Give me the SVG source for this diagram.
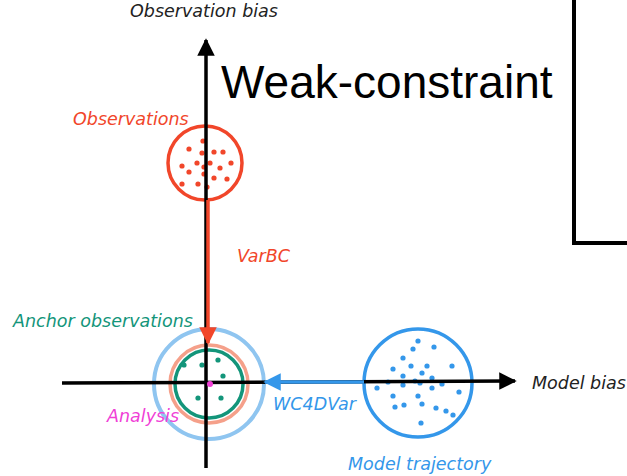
<svg xmlns="http://www.w3.org/2000/svg" width="627" height="476" viewBox="0 0 627 476">
<defs>
<style>
.lbl{font-family:"DejaVu Sans","Liberation Sans",sans-serif;font-style:italic;font-size:17.5px;font-weight:300}
.red{fill:#f1462a}.grn{fill:#13957a}.blu{fill:#3497ea}.pnk{fill:#f03fd6}
</style>
<marker id="ab" viewBox="0 0 10 10" refX="9" refY="5" markerWidth="5" markerHeight="5" orient="auto" markerUnits="strokeWidth"><path d="M0,0 L10,5 L0,10 z" fill="#000"/></marker>
<marker id="ar" viewBox="0 0 10 10" refX="9" refY="5" markerWidth="5" markerHeight="5" orient="auto" markerUnits="strokeWidth"><path d="M0,0 L10,5 L0,10 z" fill="#f1462a"/></marker>
<marker id="abl" viewBox="0 0 10 10" refX="9" refY="5" markerWidth="5" markerHeight="5" orient="auto" markerUnits="strokeWidth"><path d="M0,0 L10,5 L0,10 z" fill="#3497ea"/></marker>
</defs>
<rect width="627" height="476" fill="#fff"/>
<text x="221" y="98" font-family="Liberation Sans, Arial, sans-serif" font-size="46" fill="#000">Weak-constraint</text>
<path d="M574,0 V243 H627" fill="none" stroke="#000" stroke-width="4"/>

<g id="obs">
<circle cx="205" cy="163" r="37" fill="none" stroke="#f1462a" stroke-width="3.5"/>
<g class="red">
<circle cx="203" cy="141" r="2.6"/><circle cx="189" cy="149" r="2.6"/><circle cx="202" cy="153" r="2.6"/><circle cx="214" cy="152" r="2.6"/><circle cx="223" cy="152" r="2.6"/><circle cx="197" cy="163" r="2.6"/><circle cx="210" cy="163" r="2.6"/><circle cx="231" cy="163" r="2.6"/><circle cx="182" cy="166" r="2.6"/><circle cx="204" cy="167" r="2.6"/><circle cx="220" cy="168" r="2.6"/><circle cx="189" cy="172" r="2.6"/><circle cx="204" cy="174" r="2.6"/><circle cx="214" cy="178" r="2.6"/><circle cx="227" cy="179" r="2.6"/><circle cx="182" cy="184" r="2.6"/><circle cx="198" cy="184" r="2.6"/><circle cx="207" cy="187" r="2.6"/>
</g>
</g>

<g id="model">
<circle cx="418" cy="383" r="54" fill="none" stroke="#3497ea" stroke-width="3.5"/>
<g class="blu">
<circle cx="418" cy="341" r="2.6"/><circle cx="413" cy="349" r="2.6"/><circle cx="434" cy="347" r="2.6"/><circle cx="403" cy="358" r="2.6"/><circle cx="411" cy="366" r="2.6"/><circle cx="427" cy="366" r="2.6"/><circle cx="452" cy="366" r="2.6"/><circle cx="393" cy="369" r="2.6"/><circle cx="422" cy="373" r="2.6"/><circle cx="403" cy="376" r="2.6"/><circle cx="432" cy="378" r="2.6"/><circle cx="388" cy="382" r="2.6"/><circle cx="415" cy="381" r="2.6"/><circle cx="403" cy="385" r="2.6"/><circle cx="420" cy="383" r="2.6"/><circle cx="442" cy="384" r="2.6"/><circle cx="377" cy="388" r="2.6"/><circle cx="432" cy="388" r="2.6"/><circle cx="393" cy="396" r="2.6"/><circle cx="418" cy="396" r="2.6"/><circle cx="459" cy="392" r="2.6"/><circle cx="395" cy="407" r="2.6"/><circle cx="404" cy="405" r="2.6"/><circle cx="422" cy="404" r="2.6"/><circle cx="436" cy="408" r="2.6"/><circle cx="446" cy="411" r="2.6"/><circle cx="453" cy="415" r="2.6"/><circle cx="421" cy="423" r="2.6"/>
</g>
</g>

<g id="anchor">
<circle cx="209" cy="384" r="55" fill="none" stroke="#8fc5f0" stroke-width="4"/>
<circle cx="209" cy="384" r="39" fill="none" stroke="#f5a08a" stroke-width="3.5"/>
<circle cx="209" cy="384" r="34" fill="none" stroke="#13957a" stroke-width="3.5"/>
<g class="grn">
<circle cx="184" cy="365" r="2.6"/><circle cx="202" cy="365" r="2.6"/><circle cx="218" cy="360" r="2.6"/><circle cx="223" cy="376" r="2.6"/><circle cx="198" cy="398" r="2.6"/><circle cx="221" cy="398" r="2.6"/>
</g>
</g>

<g id="connectors">
<line x1="206" y1="468" x2="206" y2="40" stroke="#000" stroke-width="3.5" marker-end="url(#ab)"/>
<line x1="62" y1="383" x2="515" y2="381" stroke="#000" stroke-width="3.5" marker-end="url(#ab)"/>
<line x1="208" y1="200" x2="208" y2="343" stroke="#f1462a" stroke-width="3.5" marker-end="url(#ar)"/>
<line x1="364" y1="382" x2="265" y2="382" stroke="#3497ea" stroke-width="3.5" marker-end="url(#abl)"/>
</g>

<g id="analysis">
<circle cx="210" cy="384" r="3" fill="#f03fd6"/>
</g>

<g id="labels">
<text class="lbl" x="130" y="17" fill="#222">Observation bias</text>
<text class="lbl red" x="73" y="125">Observations</text>
<text class="lbl red" x="237" y="262">VarBC</text>
<text class="lbl grn" x="13" y="327">Anchor observations</text>
<text class="lbl pnk" x="107" y="422">Analysis</text>
<text class="lbl blu" x="273" y="410">WC4DVar</text>
<text class="lbl blu" x="348" y="470">Model trajectory</text>
<text class="lbl" x="532" y="389" fill="#222">Model bias</text>
</g>
</svg>
